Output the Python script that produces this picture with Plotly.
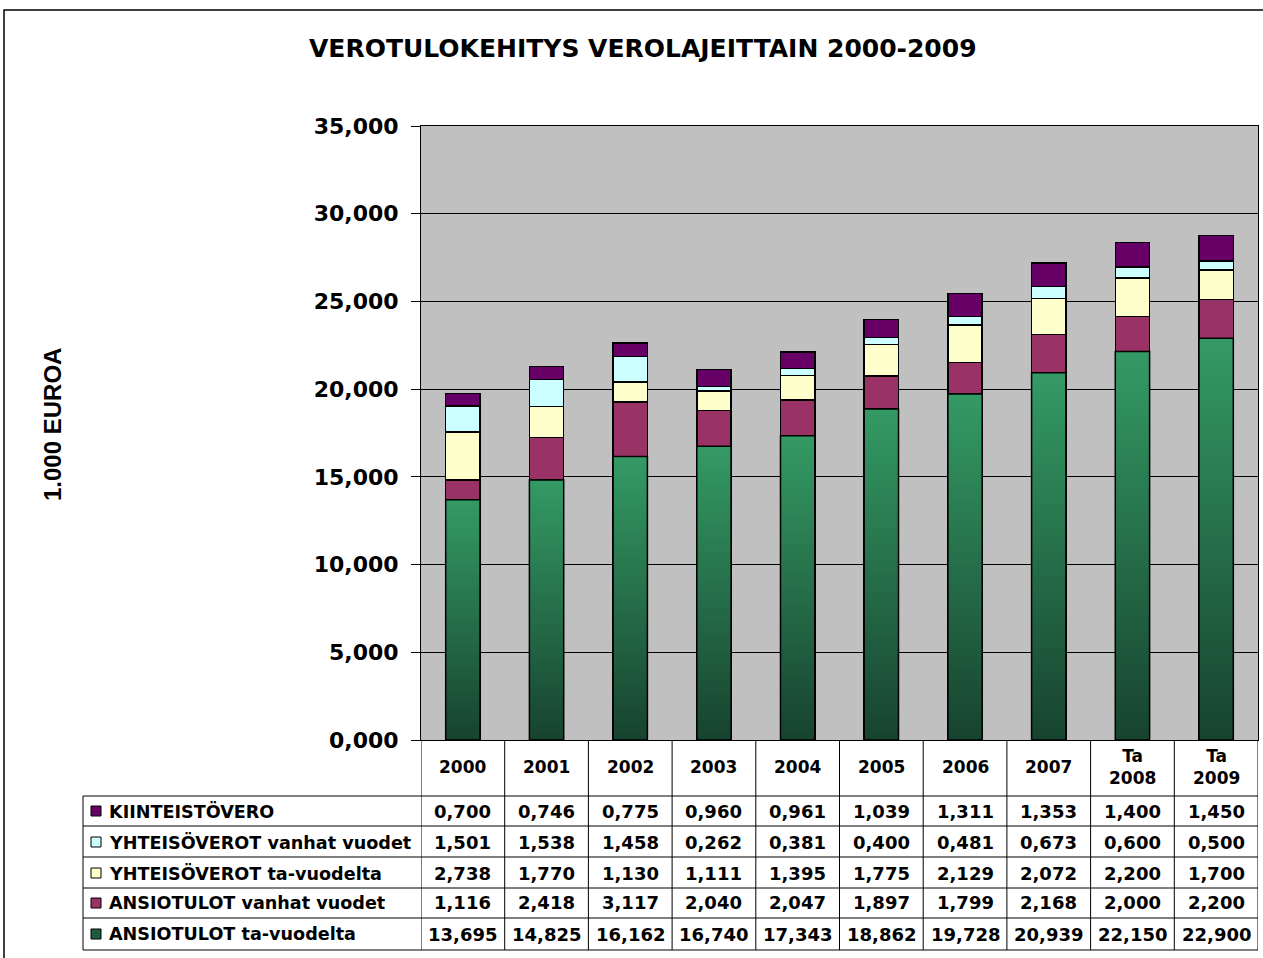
import plotly.graph_objects as go

# ---- data ----
years = ["2000", "2001", "2002", "2003", "2004", "2005", "2006", "2007", "Ta<br>2008", "Ta<br>2009"]
series_names = [
    "ANSIOTULOT ta-vuodelta",
    "ANSIOTULOT vanhat vuodet",
    "YHTEISÖVEROT ta-vuodelta",
    "YHTEISÖVEROT vanhat vuodet",
    "KIINTEISTÖVERO",
]
ansio_ta = [13695, 14825, 16162, 16740, 17343, 18862, 19728, 20939, 22150, 22900]
ansio_vanhat = [1116, 2418, 3117, 2040, 2047, 1897, 1799, 2168, 2000, 2200]
yhteiso_ta = [2738, 1770, 1130, 1111, 1395, 1775, 2129, 2072, 2200, 1700]
yhteiso_vanhat = [1501, 1538, 1458, 262, 381, 400, 481, 673, 600, 500]
kiinteisto = [700, 746, 775, 960, 961, 1039, 1311, 1353, 1400, 1450]
y_ticks = [0, 5000, 10000, 15000, 20000, 25000, 30000, 35000]

series_values = [ansio_ta, ansio_vanhat, yhteiso_ta, yhteiso_vanhat, kiinteisto]
colors = ["#267550", "#993366", "#FFFFCC", "#CCFFFF", "#660066"]
green_dark, green_light = "#17432e", "#349a65"

def fmt(v):
    return f"{v // 1000},{v % 1000:03d}"

W, H = 1263, 958
L, R, T, B = 421, 1258, 126, 740  # plot area in pixels

def px(xp):
    return (xp - L) / (R - L)

def py(yp):
    return (B - yp) / (B - T)

FONT = "DejaVu Sans"
BAR_W = 0.41
xs = list(range(len(years)))

fig = go.Figure()
for k, (name, vals, col) in enumerate(zip(series_names, series_values, colors)):
    fig.add_trace(go.Bar(
        x=xs, y=vals, name=name, width=BAR_W,
        marker=dict(color=col, line=dict(color="#000000", width=1.5)),
        showlegend=False,
    ))

# vertical gradient fill for the green base series (drawn over its bars)
for i, v in enumerate(ansio_ta):
    fig.add_trace(go.Scatter(
        x=[i - BAR_W / 2, i + BAR_W / 2, i + BAR_W / 2, i - BAR_W / 2, i - BAR_W / 2],
        y=[0, 0, v, v, 0],
        mode="lines", fill="toself",
        fillgradient=dict(type="vertical", colorscale=[[0, green_dark], [1, green_light]]),
        line=dict(color="#000000", width=1.5),
        hoverinfo="skip", showlegend=False,
    ))

shapes = []
annotations = []

# outer chart border
shapes.append(dict(type="rect", xref="paper", yref="paper",
                   x0=px(4), x1=px(1275), y0=py(10), y1=py(970),
                   line=dict(color="#000000", width=1.5), layer="below"))

# table horizontal lines
row_lines = [796, 826, 857, 888, 918, 950]
for yl in row_lines:
    shapes.append(dict(type="line", xref="paper", yref="paper",
                       x0=px(83), x1=1, y0=py(yl), y1=py(yl),
                       line=dict(color="#000000", width=1)))
# table vertical lines (category boundaries)
for b in range(len(years) + 1):
    shapes.append(dict(type="line", xref="x", yref="paper",
                       x0=b - 0.5, x1=b - 0.5, y0=0, y1=py(950),
                       line=dict(color="#000000", width=1)))
shapes.append(dict(type="line", xref="paper", yref="paper",
                   x0=px(83), x1=px(83), y0=py(796), y1=py(950),
                   line=dict(color="#000000", width=1)))

TFS = 18
LFS = 17.6
# header year labels
for i, yr in enumerate(years):
    annotations.append(dict(x=i, y=py(767), xref="x", yref="paper", text=yr,
                            showarrow=False, xanchor="center", yanchor="middle",
                            font=dict(family=FONT, size=17, color="#000000", weight="bold")))

# table rows (top to bottom: reverse of stacking order)
row_centers = [811, 842, 873, 903, 934]
for r, idx in enumerate(reversed(range(len(series_names)))):
    yc = py(row_centers[r])
    shapes.append(dict(type="rect", xref="paper", yref="paper",
                       x0=px(91), x1=px(101), y0=yc - 5 / (B - T), y1=yc + 5 / (B - T),
                       fillcolor="#1f5c3f" if idx == 0 else colors[idx],
                       line=dict(color="#000000", width=1)))
    annotations.append(dict(x=px(107), y=yc, xref="paper", yref="paper",
                            text=series_names[idx], showarrow=False,
                            xanchor="left", yanchor="middle",
                            font=dict(family=FONT, size=LFS, color="#000000", weight="bold")))
    for i, v in enumerate(series_values[idx]):
        annotations.append(dict(x=i, y=yc, xref="x", yref="paper", text=fmt(v),
                                showarrow=False, xanchor="center", yanchor="middle",
                                font=dict(family=FONT, size=TFS, color="#000000", weight="bold")))

# title
annotations.append(dict(x=px(643), y=py(49), xref="paper", yref="paper",
                        text="VEROTULOKEHITYS VEROLAJEITTAIN 2000-2009",
                        showarrow=False, xanchor="center", yanchor="middle",
                        font=dict(family=FONT, size=25, color="#000000", weight="bold")))
# y axis title
annotations.append(dict(x=px(52), y=py(425), xref="paper", yref="paper",
                        text="1.000 EUROA", textangle=-90,
                        showarrow=False, xanchor="center", yanchor="middle",
                        font=dict(family="Liberation Sans", size=24, color="#000000", weight="bold")))

fig.update_layout(
    width=W, height=H,
    margin=dict(l=L, r=W - R, t=T, b=H - B, pad=0),
    barmode="stack",
    paper_bgcolor="#FFFFFF",
    plot_bgcolor="#C0C0C0",
    shapes=shapes,
    annotations=annotations,
    showlegend=False,
)
fig.update_xaxes(range=[-0.5, len(years) - 0.5], showticklabels=False, ticks="",
                 showgrid=False, zeroline=False, showline=True, linecolor="#000000",
                 linewidth=1, mirror=True, fixedrange=True)
fig.update_yaxes(range=[0, 35000], tickvals=y_ticks, ticktext=[fmt(v) for v in y_ticks],
                 ticks="outside", ticklen=9, tickcolor="#000000", ticklabelstandoff=8,
                 tickfont=dict(family=FONT, size=22, color="#000000", weight="bold"),
                 showgrid=True, gridcolor="#000000", gridwidth=1, zeroline=False,
                 showline=True, linecolor="#000000", linewidth=1, mirror=True, fixedrange=True)

fig.write_html("out.html", config={"displayModeBar": False, "responsive": False},
               post_script="document.body.style.margin='0';document.body.style.overflow='hidden';")
